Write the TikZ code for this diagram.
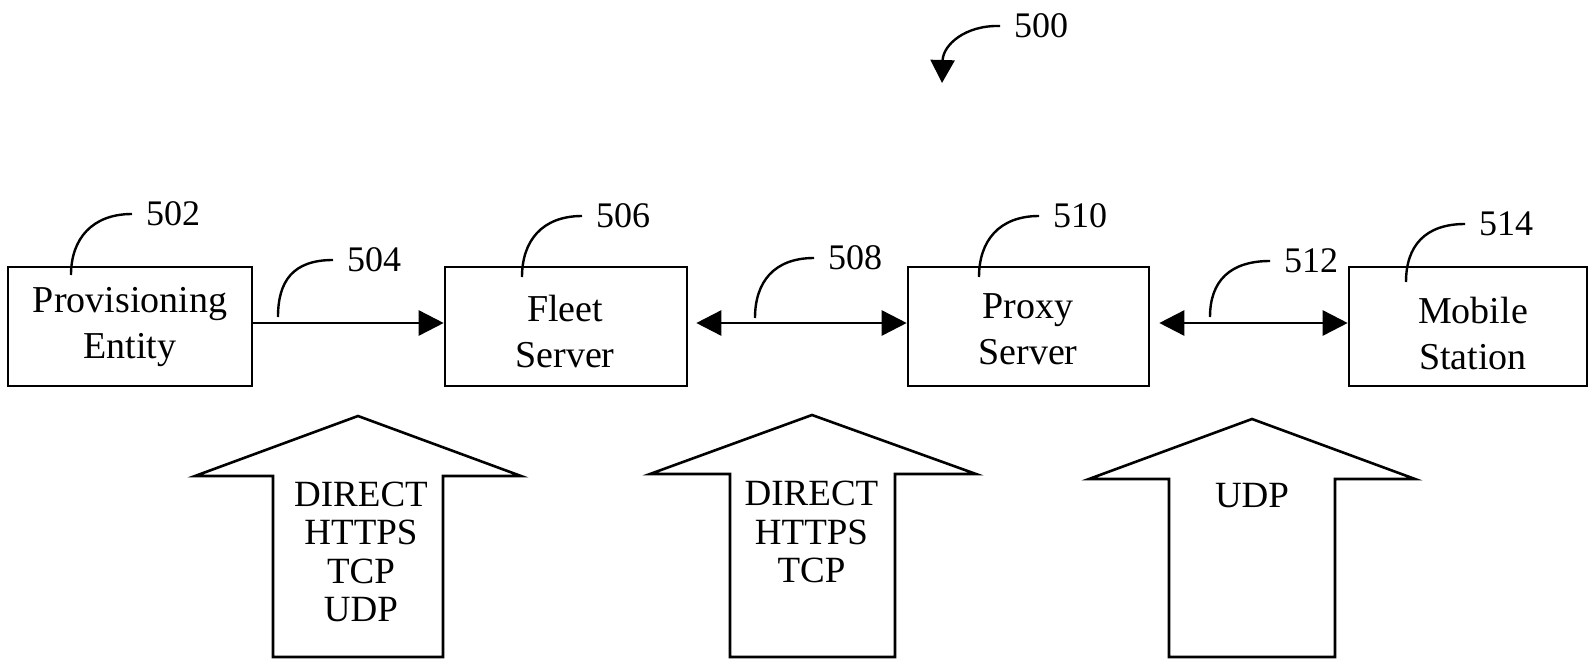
\documentclass[tikz,border=0pt]{standalone}
\usepackage{fontspec}
\setmainfont{Liberation Serif}
\usetikzlibrary{arrows.meta}
\begin{document}
\begin{tikzpicture}[x=1pt,y=-1pt,
  box/.style={draw, line width=2.6pt, inner sep=0pt, minimum height=119pt},
  boxtext/.style={align=center, inner sep=0pt, font=\fontsize{38}{46}\selectfont},
  reflabel/.style={anchor=west, inner xsep=14pt, inner ysep=0pt, font=\fontsize{36}{40}\selectfont},
  leader/.style={line width=2.4pt},
  link/.style={line width=2.6pt},
  head/.tip={Triangle[length=25pt,width=25pt]},
  blockarrow/.style={draw, line width=2.6pt, line join=miter},
  blocktext/.style={align=center, inner sep=0pt, font=\fontsize{37}{38.5}\selectfont}]
\useasboundingbox (0,0) rectangle (1589,661);

% figure reference
\node[reflabel] (n500) at (1000,26) {500};
\coordinate (c500) at (942,83);
\draw[leader, -{Triangle[length=23pt,width=24pt]}] (n500.west) .. controls +(-35,-1) and +(1,-38) .. (c500);

% boxes
\node[box, minimum width=244pt] (prov)   at (130,326.5)  {};
\node[box, minimum width=242pt] (fleet)  at (566,326.5)  {};
\node[box, minimum width=241pt] (proxy)  at (1028.5,326.5) {};
\node[box, minimum width=238pt] (mobile) at (1468,326.5) {};

\node[boxtext] (tprov)   at (130,327)   {Provisioning\\Entity};
\node[boxtext] (tfleet)  at (565,331)   {Fleet\\Server};
\node[boxtext] (tproxy)  at (1028,329.5) {Proxy\\Server};
\node[boxtext] (tmobile) at (1473,333)  {Mobile\\Station};

% links between boxes
\draw[link, -head] ([yshift=3.5pt]prov.east) -- ([yshift=3.5pt]fleet.west);
\draw[link, head-head, shorten <=8pt] ([yshift=3.5pt]fleet.east) -- ([yshift=3.5pt]proxy.west);
\draw[link, head-head, shorten <=9pt] ([yshift=3.5pt]proxy.east) -- ([yshift=3.5pt]mobile.west);

% reference numerals with leader lines
\node[reflabel] (n502) at (132,214) {502};
\node[reflabel] (n504) at (333,260) {504};
\node[reflabel] (n506) at (582,216) {506};
\node[reflabel] (n508) at (814,258) {508};
\node[reflabel] (n510) at (1039,216) {510};
\node[reflabel] (n512) at (1270,261) {512};
\node[reflabel] (n514) at (1465,224) {514};

\coordinate (c502) at (71,275);
\coordinate (c504) at (278,317);
\coordinate (c506) at (522,277);
\coordinate (c508) at (755,318);
\coordinate (c510) at (979,277);
\coordinate (c512) at (1210,317);
\coordinate (c514) at (1406,282);

\foreach \r in {502,504,506,508,510,512,514}
  \draw[leader] (c\r) .. controls +(0,-36) and +(-40,0) .. (n\r.west);

% protocol block arrows
\draw[blockarrow] (273,657) -- (273,476) -- (195,476) -- (358,416) -- (521,476) -- (443,476) -- (443,657) -- cycle;
\draw[blockarrow] (730,657) -- (730,474) -- (650,474) -- (812,415) -- (976,474) -- (895,474) -- (895,657) -- cycle;
\draw[blockarrow] (1169,657) -- (1169,479) -- (1089,479) -- (1252,419) -- (1415,479) -- (1335,479) -- (1335,657) -- cycle;

\node[blocktext] (p1) at (361,552) {DIRECT\\HTTPS\\TCP\\UDP};
\node[blocktext] (p2) at (811.5,532) {DIRECT\\HTTPS\\TCP};
\node[blocktext] (p3) at (1252,496) {UDP};
\end{tikzpicture}
\end{document}
